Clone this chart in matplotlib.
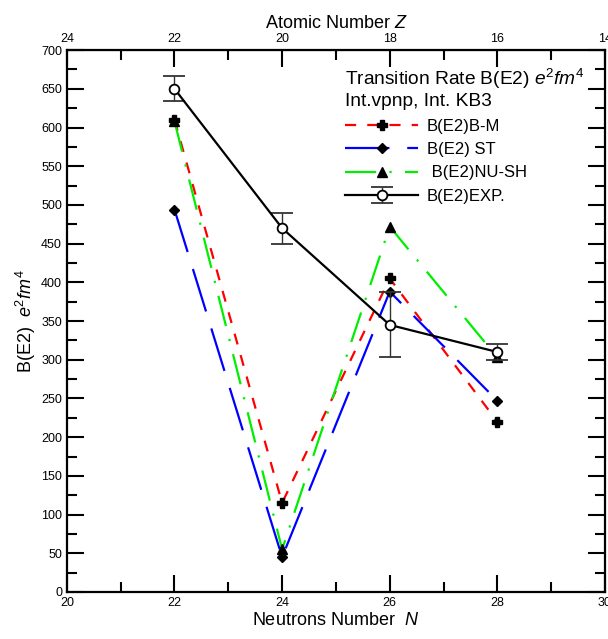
import matplotlib
matplotlib.use("Agg")
import numpy as np
import matplotlib.pyplot as plt
from matplotlib.ticker import MultipleLocator

plt.rcParams['font.family'] = ['Liberation Sans', 'DejaVu Sans']
plt.rcParams['mathtext.fontset'] = 'custom'
plt.rcParams['mathtext.it'] = 'Liberation Sans:italic'
plt.rcParams['mathtext.rm'] = 'Liberation Sans'

# neutron numbers
N = [22, 24, 26, 28]

# B(E2) values, e^2 fm^4
bm = [610, 115, 405, 220]
st = [494, 45, 388, 247]
nush = [608, 55, 472, 303]
exp_val = [650, 470, 345, 310]
exp_err = [16, 20, 42, 10]

fig = plt.figure(figsize=(6.08, 6.39), dpi=100)
ax = fig.add_axes([0.110, 0.0736, 0.885, 0.848])

ax.plot(N, bm, color='red', ls=(0, (5, 5)), lw=1.6, marker='P', mfc='black',
        mec='black', ms=7, label='B(E2)B-M')
ax.plot(N, st, color='blue', ls=(0, (20, 8)), lw=1.6, marker='D', mfc='black',
        mec='black', ms=5, label='B(E2) ST')
ax.plot(N, nush, color='#00ee00', ls=(0, (14, 6, 1, 6)), lw=1.6, marker='^',
        mfc='black', mec='black', ms=7, label=' B(E2)NU-SH')
ax.errorbar(N, exp_val, yerr=exp_err, color='black', lw=1.6, marker='o',
            mfc='white', mec='black', ms=7, mew=1.3, capsize=8, elinewidth=1,
            ecolor='#333333', label='B(E2)EXP.')

ax.set_xlim(20, 30)
ax.set_ylim(0, 700)
ax.xaxis.set_major_locator(MultipleLocator(2))
ax.xaxis.set_minor_locator(MultipleLocator(1))
ax.yaxis.set_major_locator(MultipleLocator(50))
ax.yaxis.set_minor_locator(MultipleLocator(25))
ax.tick_params(which='both', direction='in', width=1.5, labelsize=9,
               right=True)
ax.tick_params(which='major', length=12)
ax.tick_params(which='minor', length=7)
for s in ax.spines.values():
    s.set_linewidth(1.6)

ax.set_xlabel('Neutrons Number  $N$', fontsize=13, labelpad=2)
ax.set_ylabel('B(E2)  $e^2fm^4$', fontsize=13, labelpad=2)

top = ax.secondary_xaxis('top', functions=(lambda x: 44 - x, lambda z: 44 - z))
top.xaxis.set_major_locator(MultipleLocator(2))
top.xaxis.set_minor_locator(MultipleLocator(1))
top.tick_params(which='both', direction='in', width=1.5, labelsize=9)
top.tick_params(which='major', length=12)
top.tick_params(which='minor', length=7)
top.set_xlabel('Atomic Number $Z$', fontsize=13, labelpad=4)

leg = ax.legend(loc='upper right', frameon=False, fontsize=12,
                title='Transition Rate B(E2) $e^2fm^4$\nInt.vpnp, Int. KB3',
                title_fontsize=13.8, handlelength=4.4, handletextpad=0.5,
                labelspacing=0.5, bbox_to_anchor=(0.99, 0.997))
leg._legend_box.align = 'left'

fig.savefig('out.png', dpi=100)
